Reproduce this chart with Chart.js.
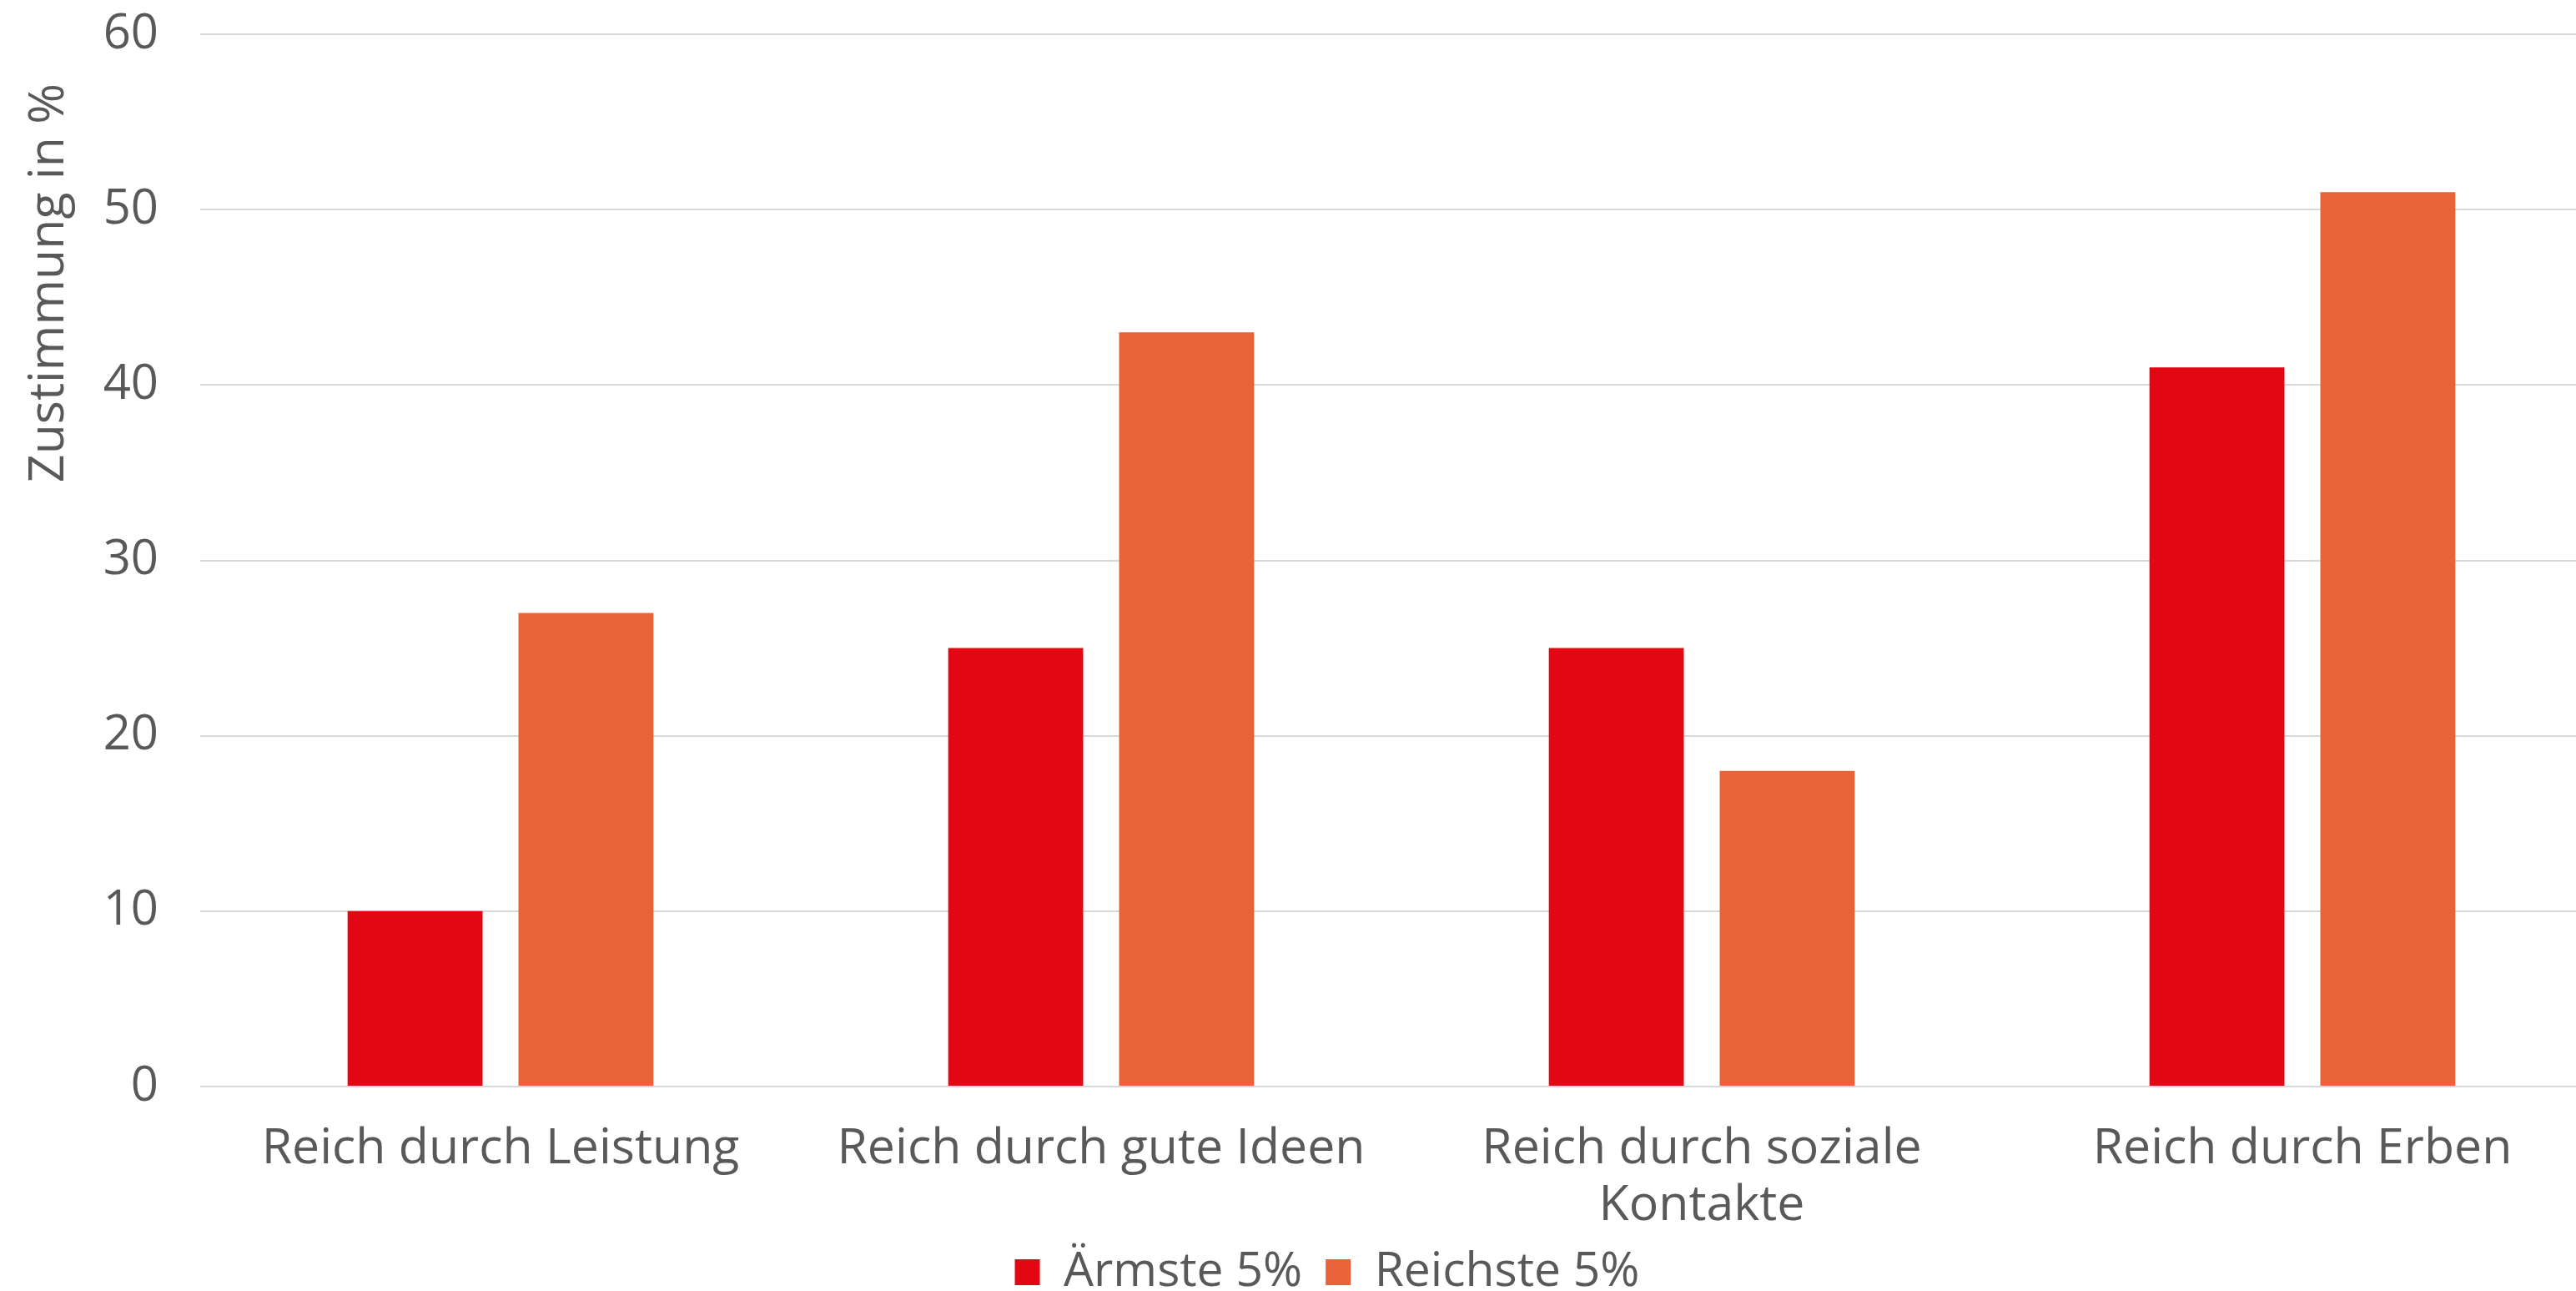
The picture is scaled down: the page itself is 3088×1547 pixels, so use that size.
<!DOCTYPE html>
<html>
<head>
<meta charset="utf-8">
<script src="https://cdn.jsdelivr.net/npm/chart.js@4.4.0/dist/chart.umd.min.js"></script>
<style>
  html, body { margin: 0; padding: 0; background: #ffffff; overflow: hidden; }
  #wrap { width: 3120px; height: 1561px; position: relative; }
</style>
</head>
<body>
<div id="wrap"><canvas id="c"></canvas></div>
<script>
// ---- data ----
const categories = [
  ['Reich durch Leistung'],
  ['Reich durch gute Ideen'],
  ['Reich durch soziale', 'Kontakte'],
  ['Reich durch Erben']
];
const seriesNames = ['Ärmste 5%', 'Reichste 5%'];
const aermste = [10, 25, 25, 41];
const reichste = [27, 43, 18, 51];
const yMin = 0;
const yMax = 60;
const yStep = 10;
const yTitle = 'Zustimmung in %';

// ---- styling ----
const RED = '#E30613';
const ORANGE = '#E9633A';
const TEXT = '#595959';
const GRID = '#D9D9D9';
const FONT = "'Open Sans', 'Liberation Sans', sans-serif";
const FS = 59;

const layoutTweaks = {
  id: 'layoutTweaks',
  afterLayout(chart) {
    const lg = chart.legend;
    if (lg) { lg.left += 31; lg.right += 31; lg.top += 2; lg.bottom += 2; }
    const ys = chart.scales.y;
    if (ys && !ys._titleWrapped) {
      const orig = ys.drawTitle.bind(ys);
      ys.drawTitle = function () {
        const ctx = this.ctx;
        ctx.save();
        ctx.translate(0, 59);
        orig();
        ctx.restore();
      };
      ys._titleWrapped = true;
    }
  }
};

new Chart(document.getElementById('c'), {
  type: 'bar',
  data: {
    labels: categories,
    datasets: [
      { label: seriesNames[0], data: aermste, backgroundColor: RED, borderWidth: 0 },
      { label: seriesNames[1], data: reichste, backgroundColor: ORANGE, borderWidth: 0 }
    ]
  },
  options: {
    responsive: true,
    maintainAspectRatio: false,
    animation: false,
    devicePixelRatio: 1,
    datasets: { bar: { categoryPercentage: 0.569, barPercentage: 0.79 } },
    layout: { padding: { top: 41, right: 0, bottom: 0, left: 0 } },
    plugins: {
      legend: {
        position: 'bottom',
        labels: {
          boxWidth: 30,
          boxHeight: 31,
          padding: 28,
          color: TEXT,
          font: { family: FONT, size: 57 }
        }
      },
      tooltip: { enabled: false }
    },
    scales: {
      x: {
        grid: { display: false },
        border: { display: false },
        ticks: {
          color: TEXT,
          padding: 34,
          maxRotation: 0,
          autoSkip: false,
          font: { family: FONT, size: FS, lineHeight: 1.14 }
        },
        afterFit(s) { s.height = 164; }
      },
      y: {
        min: yMin,
        max: yMax,
        border: { display: false },
        grid: { color: GRID, lineWidth: 2, drawTicks: false },
        ticks: {
          stepSize: yStep,
          color: TEXT,
          padding: 50,
          font: { family: FONT, size: 58 }
        },
        title: {
          display: true,
          text: yTitle,
          align: 'end',
          color: TEXT,
          padding: { top: 26, bottom: 0 },
          font: { family: FONT, size: FS, lineHeight: 1.14 }
        },
        afterFit(s) { s.width = 240; s.paddingTop = 0; s.paddingBottom = 0; }
      }
    }
  },
  plugins: [layoutTweaks]
});
</script>
</body>
</html>
